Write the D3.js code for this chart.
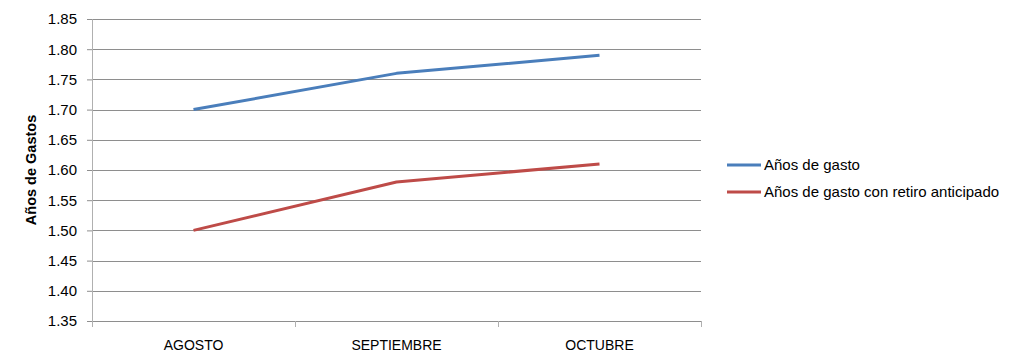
<!DOCTYPE html>
<html>
<head>
<meta charset="utf-8">
<script src="https://cdn.jsdelivr.net/npm/d3@7"></script>
<style>
  body { margin: 0; background: #fff; }
  text { font-family: "Liberation Sans", Arial, sans-serif; fill: #000; }
</style>
</head>
<body>
<div id="chart"></div>
<script>
const meses = ['AGOSTO', 'SEPTIEMBRE', 'OCTUBRE'];
const aniosGasto = [1.70, 1.76, 1.79];
const aniosGastoRetiro = [1.50, 1.58, 1.61];
const yTicks = [1.35, 1.40, 1.45, 1.50, 1.55, 1.60, 1.65, 1.70, 1.75, 1.80, 1.85];
const nombres = ['Años de gasto', 'Años de gasto con retiro anticipado'];
const colores = ['#4a7ebb', '#be4b48'];

const svgWidth = 1024;
const svgHeight = 363;
const margin = { top: 19, right: 323, bottom: 42, left: 92 };
const chartWidth = svgWidth - margin.left - margin.right;
const chartHeight = svgHeight - margin.top - margin.bottom;

const svg = d3.select('#chart').append('svg').attr('width', svgWidth).attr('height', svgHeight);
const chart = svg.append('g').attr('transform', `translate(${margin.left},${margin.top})`);

const xScale = d3.scaleBand().domain(meses).range([0, chartWidth]);
const yScale = d3.scaleLinear().domain([1.35, 1.85]).range([chartHeight, 0]);

// gridlines
chart.selectAll('.grid').data(yTicks.slice(1)).enter().append('line')
  .attr('x1', 0).attr('x2', chartWidth)
  .attr('y1', d => Math.round(yScale(d)) + 0.5).attr('y2', d => Math.round(yScale(d)) + 0.5)
  .attr('stroke', '#8e8e8e').attr('stroke-width', 1);

// y axis
const yAxis = chart.append('g')
  .call(d3.axisLeft(yScale).tickValues(yTicks).tickFormat(d3.format('.2f')).tickSize(5).tickPadding(10));
yAxis.select('.domain').attr('stroke', '#b0b0b0');
yAxis.selectAll('.tick line').attr('stroke', '#8e8e8e');
yAxis.selectAll('text').style('font-size', '15px');

// x axis with ticks at band edges
const xAxis = chart.append('g').attr('transform', `translate(0,${chartHeight})`)
  .call(d3.axisBottom(xScale).tickSize(0).tickPadding(19));
xAxis.select('.domain').attr('stroke', '#8e8e8e');
xAxis.selectAll('text').style('font-size', '14px');
const edges = meses.map(m => xScale(m)).concat([chartWidth]);
xAxis.selectAll('.edge').data(edges).enter().append('line')
  .attr('x1', d => Math.round(d) + 0.5).attr('x2', d => Math.round(d) + 0.5)
  .attr('y1', 0).attr('y2', 6)
  .attr('stroke', '#b0b0b0');

// lines
const series = [aniosGasto, aniosGastoRetiro];
const line = d3.line()
  .x((d, i) => xScale(meses[i]) + xScale.bandwidth() / 2)
  .y(d => yScale(d));
chart.selectAll('.serie').data(series).enter().append('path')
  .attr('fill', 'none')
  .attr('stroke', (d, i) => colores[i])
  .attr('stroke-width', 3)
  .attr('stroke-linejoin', 'round')
  .attr('d', line);

// y title
svg.append('text')
  .attr('transform', `translate(36,${margin.top + chartHeight / 2}) rotate(-90)`)
  .attr('text-anchor', 'middle')
  .style('font-size', '14.5px')
  .style('font-weight', 'bold')
  .text('Años de Gastos');

// legend
const legend = svg.append('g').attr('transform', 'translate(727,165)');
const items = legend.selectAll('.item').data(nombres).enter().append('g')
  .attr('transform', (d, i) => `translate(0,${i * 27})`);
items.append('line')
  .attr('x1', 0).attr('x2', 34).attr('y1', 0).attr('y2', 0)
  .attr('stroke', (d, i) => colores[i]).attr('stroke-width', 3);
items.append('text')
  .attr('x', 37).attr('y', 5)
  .style('font-size', '15px')
  .text(d => d);
</script>
</body>
</html>
